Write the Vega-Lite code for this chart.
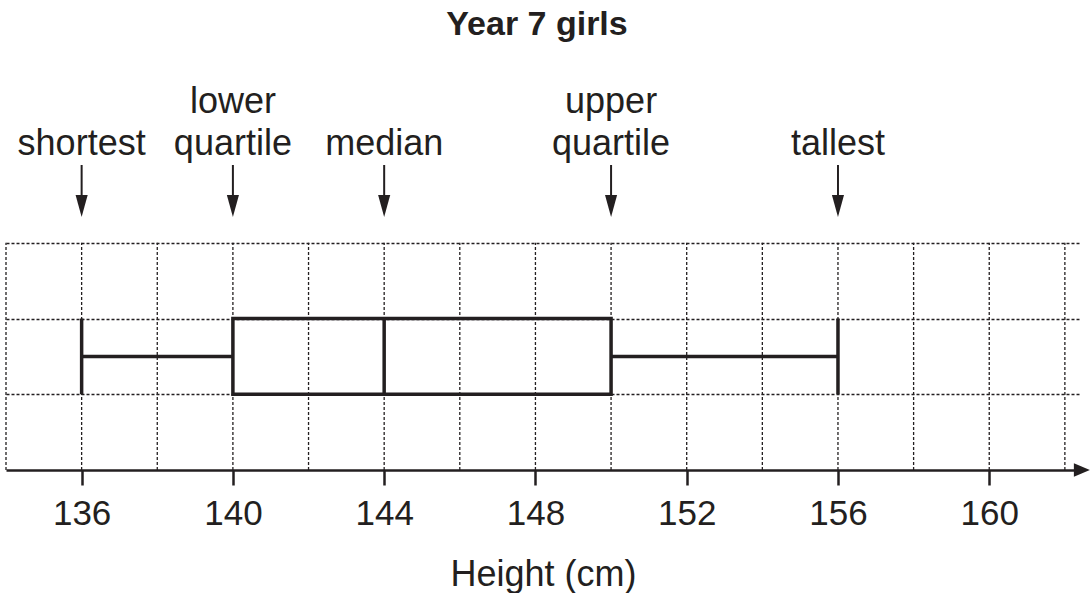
{
  "$schema": "https://vega.github.io/schema/vega-lite/v6.json",
  "width": 1074,
  "height": 409,
  "autosize": {"type": "none"},
  "padding": {"left": 6, "top": 61, "right": 10, "bottom": 123},
  "background": "white",
  "title": {
    "text": "Year 7 girls",
    "fontSize": 34,
    "fontWeight": "bold",
    "font": "Liberation Sans",
    "color": "#231f20",
    "anchor": "middle",
    "baseline": "alphabetic",
    "offset": 24,
    "dx": -6,
    "dy": 32
  },
  "config": {
    "view": {"stroke": null},
    "font": "Liberation Sans",
    "text": {"font": "Liberation Sans"}
  },
  "datasets": {
    "gridx": [
      {"x": 134}, {"x": 136}, {"x": 138}, {"x": 140}, {"x": 142}, {"x": 144}, {"x": 146}, {"x": 148},
      {"x": 150}, {"x": 152}, {"x": 154}, {"x": 156}, {"x": 158}, {"x": 160}, {"x": 162}
    ],
    "stats": [
      {"stat": "shortest", "line1": "", "line2": "shortest", "x": 136},
      {"stat": "lower quartile", "line1": "lower", "line2": "quartile", "x": 140},
      {"stat": "median", "line1": "", "line2": "median", "x": 144},
      {"stat": "upper quartile", "line1": "upper", "line2": "quartile", "x": 150},
      {"stat": "tallest", "line1": "", "line2": "tallest", "x": 156}
    ],
    "box": [{"x": 140, "x2": 150}],
    "whiskers": [{"x": 136, "x2": 140}, {"x": 150, "x2": 156}],
    "lines": [{"x": 136}, {"x": 144}, {"x": 156}],
    "axisend": [{"x": 162.45}]
  },
  "encoding": {
    "x": {
      "field": "x",
      "type": "quantitative",
      "scale": {"domain": [134, 162.4], "nice": false, "zero": false},
      "axis": {
        "values": [136, 140, 144, 148, 152, 156, 160],
        "grid": false,
        "title": "Height (cm)",
        "titleFont": "Liberation Sans",
        "titleFontSize": 36,
        "titleFontWeight": "normal",
        "titleColor": "#231f20",
        "titlePadding": 26,
        "labelFont": "Liberation Sans",
        "labelFontSize": 35,
        "labelColor": "#231f20",
        "labelPadding": 11,
        "tickSize": 15,
        "tickWidth": 2.5,
        "tickColor": "#231f20",
        "domainColor": "#231f20",
        "domainWidth": 2.5,
        "format": "d"
      }
    }
  },
  "layer": [
    {
      "data": {"name": "gridx"},
      "mark": {"type": "rule", "color": "#231f20", "strokeWidth": 1.3, "strokeDash": [3, 2]},
      "encoding": {
        "y": {
          "datum": 0,
          "type": "quantitative",
          "scale": {"domain": [0, 5.4], "nice": false, "zero": true},
          "axis": {
            "values": [1, 2, 3],
            "grid": true,
            "gridDash": [3, 2],
            "gridColor": "#231f20",
            "gridWidth": 1.3,
            "gridOpacity": 1,
            "labels": false,
            "ticks": false,
            "domain": false,
            "title": null
          }
        },
        "y2": {"datum": 3}
      }
    },
    {
      "data": {"name": "whiskers"},
      "mark": {"type": "rule", "color": "#231f20", "strokeWidth": 3.5},
      "encoding": {
        "x2": {"field": "x2"},
        "y": {"datum": 1.5, "type": "quantitative"}
      }
    },
    {
      "data": {"name": "lines"},
      "mark": {"type": "rule", "color": "#231f20", "strokeWidth": 3.5},
      "encoding": {
        "y": {"datum": 1, "type": "quantitative"},
        "y2": {"datum": 2}
      }
    },
    {
      "data": {"name": "box"},
      "mark": {"type": "rect", "fill": null, "fillOpacity": 0, "stroke": "#231f20", "strokeWidth": 3.5},
      "encoding": {
        "x2": {"field": "x2"},
        "y": {"datum": 1, "type": "quantitative"},
        "y2": {"datum": 2}
      }
    },
    {
      "data": {"name": "stats"},
      "mark": {"type": "rule", "color": "#231f20", "strokeWidth": 2},
      "encoding": {
        "y": {"datum": 4.027, "type": "quantitative"},
        "y2": {"datum": 3.55}
      }
    },
    {
      "data": {"name": "stats"},
      "mark": {"type": "point", "filled": true, "color": "#231f20", "opacity": 1, "shape": "M-0.55,-1L0.55,-1L0,1Z", "size": 484},
      "encoding": {
        "y": {"datum": 3.486, "type": "quantitative"}
      }
    },
    {
      "data": {"name": "stats"},
      "mark": {"type": "text", "fontSize": 36, "color": "#231f20", "align": "center", "baseline": "alphabetic"},
      "encoding": {
        "y": {"datum": 4.159, "type": "quantitative"},
        "text": {"field": "line2", "type": "nominal"}
      }
    },
    {
      "data": {"name": "stats"},
      "mark": {"type": "text", "fontSize": 36, "color": "#231f20", "align": "center", "baseline": "alphabetic"},
      "encoding": {
        "y": {"datum": 4.714, "type": "quantitative"},
        "text": {"field": "line1", "type": "nominal"}
      }
    },
    {
      "data": {"name": "axisend"},
      "mark": {"type": "point", "filled": true, "color": "#231f20", "opacity": 1, "shape": "M-1,-0.85L1,0L-1,0.85Z", "size": 256},
      "encoding": {
        "y": {"datum": 0, "type": "quantitative"}
      }
    }
  ]
}
